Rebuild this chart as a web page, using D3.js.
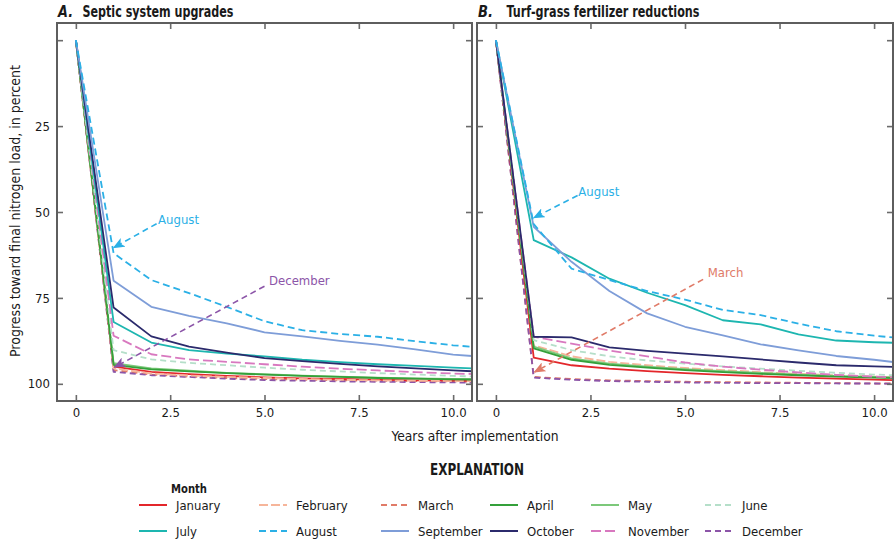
<!DOCTYPE html>
<html><head><meta charset="utf-8">
<script src="https://cdn.jsdelivr.net/npm/d3@7"></script>
<style>
body{margin:0;background:#fff}
svg{display:block}
text{font-family:"Liberation Sans Narrow","Arial Narrow","DejaVu Sans Condensed",sans-serif;fill:#1a1a1a}
</style>
</head><body>
<svg id="c" width="894" height="541"></svg>
<script>
// ---------- data ----------
const years = [0,1,2,3,4,5,6,7,8,9,10,11];
const months = ["January","February","March","April","May","June","July","August","September","October","November","December"];

// Panel A: Septic system upgrades (progress, percent), one row per month
const septicValues = [
  [0, 95.0, 96.5, 97.2, 97.7, 98.1, 98.4, 98.6, 98.8, 99.0, 99.1, 99.2], // January
  [0, 95.5, 97.0, 97.6, 98.0, 98.3, 98.6, 98.8, 99.0, 99.1, 99.2, 99.3], // February
  [0, 96.0, 97.3, 97.9, 98.3, 98.6, 98.8, 99.0, 99.1, 99.2, 99.3, 99.4], // March
  [0, 94.5, 95.8, 96.4, 96.9, 97.3, 97.7, 98.0, 98.3, 98.5, 98.7, 98.8], // April
  [0, 94.0, 95.5, 96.2, 96.8, 97.2, 97.6, 97.9, 98.2, 98.4, 98.6, 98.7], // May
  [0, 90.2, 92.9, 93.9, 94.6, 95.3, 95.9, 96.4, 96.9, 97.3, 97.7, 98.0], // June
  [0, 82.0, 88.0, 90.2, 91.2, 92.0, 93.0, 93.7, 94.3, 94.8, 95.3, 95.7], // July
  [0, 62.0, 69.8, 73.6, 77.6, 81.8, 84.4, 85.5, 86.3, 87.6, 88.8, 89.6], // August
  [0, 70.0, 77.6, 80.2, 82.4, 85.0, 86.2, 87.5, 88.6, 90.0, 91.5, 92.3], // September
  [0, 77.8, 86.2, 89.2, 90.9, 92.5, 93.4, 94.2, 94.9, 95.5, 96.1, 96.6], // October
  [0, 86.0, 91.4, 92.9, 93.6, 94.3, 95.0, 95.6, 96.1, 96.6, 97.0, 97.3], // November
  [0, 96.5, 97.5, 98.0, 98.5, 98.9, 99.1, 99.3, 99.4, 99.5, 99.6, 99.7]  // December
];

// Panel B: Turf-grass fertilizer reductions
const turfValues = [
  [0, 92.4, 94.6, 95.6, 96.3, 96.9, 97.4, 97.8, 98.2, 98.5, 98.8, 99.0], // January
  [0, 88.8, 92.0, 93.6, 94.6, 95.4, 96.0, 96.6, 97.1, 97.5, 97.9, 98.2], // February
  [0, 98.0, 98.6, 99.0, 99.2, 99.4, 99.5, 99.6, 99.7, 99.8, 99.9, 99.9], // March
  [0, 89.7, 93.0, 94.5, 95.3, 96.0, 96.6, 97.1, 97.5, 97.9, 98.2, 98.5], // April
  [0, 89.2, 92.6, 94.1, 95.0, 95.7, 96.3, 96.8, 97.3, 97.7, 98.0, 98.3], // May
  [0, 87.3, 90.2, 92.0, 93.2, 94.1, 94.9, 95.6, 96.2, 96.8, 97.3, 97.7], // June
  [0, 58.2, 63.2, 69.4, 73.5, 77.1, 81.5, 82.7, 85.6, 87.4, 87.9, 88.2], // July
  [0, 53.5, 66.5, 69.8, 73.0, 75.5, 78.5, 80.0, 82.5, 84.7, 86.0, 87.0], // August
  [0, 54.3, 64.5, 73.0, 79.5, 83.4, 85.9, 88.5, 90.3, 91.9, 93.0, 94.3], // September
  [0, 86.3, 86.5, 89.4, 90.4, 91.2, 92.0, 92.9, 93.8, 94.6, 94.9, 95.2], // October
  [0, 86.3, 88.3, 90.3, 92.0, 93.8, 95.0, 95.9, 96.7, 97.4, 97.9, 98.4], // November
  [0, 98.2, 98.8, 99.2, 99.4, 99.6, 99.7, 99.8, 99.8, 99.9, 99.9, 100.0] // December
];

const xTickValues = [0, 2.5, 5, 7.5, 10];
const xTickLabels = ["0", "2.5", "5.0", "7.5", "10.0"];
const yTickValues = [0, 25, 50, 75, 100];
const yTickLabels = ["", "25", "50", "75", "100"];

// annotations: [label, month index, textYear, textValue, fromYear, fromValue, toYear, toValue]
const septicNotes = [
  ["August", 7, 2.18, 52.1, 2.14, 53.4, 1.0, 60.4],
  ["December", 11, 5.12, 69.8, 5.0, 71.6, 1.02, 95.2]
];
const turfNotes = [
  ["August", 7, 2.18, 44.0, 2.16, 45.2, 1.0, 51.7],
  ["March", 2, 5.6, 67.7, 5.48, 69.6, 1.02, 96.6]
];

// ---------- styles ----------
const colors = ["#e3262b","#f6b59a","#e07b68","#34a03a","#7cc87a","#b5dfc9",
                "#1db6b0","#2bb0e6","#7e9dd8","#2b2a6c","#d878bf","#8c55a8"];
const dashes = [null,"9,3","6,4",null,null,"6,4",null,"7,4",null,null,"10,4","6,4"];

// ---------- drawing ----------
const svg = d3.select("#c");
const defs = svg.append("defs");

// squeeze a text element to a given width (keeps it as real text)
function fit(sel, w){
  const n = sel.node();
  if (n.getComputedTextLength() > w) sel.attr("textLength", w).attr("lengthAdjust","spacingAndGlyphs");
  return sel;
}

const yTop = 23, yBot = 401;
const panels = [
  {id:"A", letter:"A.", title:"Septic system upgrades", tx:82.5, tw:151, x0:57, x1:472, values:septicValues, notes:septicNotes, labels:true},
  {id:"B", letter:"B.", title:"Turf-grass fertilizer reductions", tx:506.5, tw:193, x0:477, x1:893, values:turfValues, notes:turfNotes, labels:false}
];

months.forEach((m,i)=>{
  defs.append("marker").attr("id","arr"+i)
    .attr("viewBox","0 0 12 10").attr("refX",11).attr("refY",5)
    .attr("markerWidth",12).attr("markerHeight",10)
    .attr("markerUnits","userSpaceOnUse").attr("orient","auto")
    .append("path").attr("d","M0,0L12,5L0,10L3,5Z").attr("fill",colors[i]);
});

panels.forEach(p=>{
  const x = d3.scaleLinear().domain([-0.5,10.5]).range([p.x0,p.x1]);
  const y = d3.scaleLinear().domain([-5,105]).range([yTop,yBot]);
  const g = svg.append("g");

  defs.append("clipPath").attr("id","clip"+p.id)
    .append("rect").attr("x",p.x0).attr("y",yTop).attr("width",p.x1-p.x0).attr("height",yBot-yTop);

  // title
  fit(g.append("text").attr("x",p.x0+1).attr("y",16.5).attr("font-size",15).attr("font-weight","bold")
    .attr("font-style","italic").text(p.letter), 15);
  fit(g.append("text").attr("x",p.tx).attr("y",16.5).attr("font-size",15).attr("font-weight","bold")
    .text(p.title), p.tw);

  // lines
  const line = d3.line().x((d,k)=>x(years[k])).y(d=>y(d));
  const lg = g.append("g").attr("clip-path","url(#clip"+p.id+")");
  const order = [2,11,0,1,4,3,5,10,6,9,8,7];
  order.forEach(i=>{
    lg.append("path").datum(p.values[i]).attr("d",line)
      .attr("fill","none").attr("stroke",colors[i]).attr("stroke-width",1.8)
      .attr("stroke-dasharray",dashes[i]).attr("stroke-linejoin","round");
  });

  // annotations
  p.notes.forEach(n=>{
    const [lab, mi, tx, tv, fx, fv, ex, ev] = n;
    g.append("line").attr("x1",x(fx)).attr("y1",y(fv)).attr("x2",x(ex)).attr("y2",y(ev))
      .attr("stroke",colors[mi]).attr("stroke-width",1.6).attr("stroke-dasharray","6,4")
      .attr("marker-end","url(#arr"+mi+")");
    g.append("text").attr("x",x(tx)).attr("y",y(tv)).attr("dy","0.35em")
      .attr("font-size",13).style("fill",colors[mi]).text(lab);
  });

  // axes (ticks inward)
  const axStyle = sel=>{
    sel.select(".domain").remove();
    sel.selectAll(".tick line").attr("stroke","#6b6b6b").attr("stroke-width",1.6);
    sel.selectAll(".tick text").attr("font-size",13).style("fill","#1a1a1a")
      .attr("font-family",'"Liberation Sans Narrow","Arial Narrow","DejaVu Sans Condensed",sans-serif');
  };
  g.append("g").attr("transform",`translate(0,${yBot})`)
    .call(d3.axisBottom(x).tickValues(xTickValues).tickSize(-6).tickPadding(7)
      .tickFormat((d,k)=>xTickLabels[k])).call(axStyle);
  g.append("g").attr("transform",`translate(0,${yTop})`)
    .call(d3.axisTop(x).tickValues(xTickValues).tickSize(-6).tickFormat("")).call(axStyle);
  g.append("g").attr("transform",`translate(${p.x0},0)`)
    .call(d3.axisLeft(y).tickValues(yTickValues).tickSize(-6).tickPadding(7)
      .tickFormat((d,k)=>p.labels?yTickLabels[k]:"")).call(axStyle);
  g.append("g").attr("transform",`translate(${p.x1},0)`)
    .call(d3.axisRight(y).tickValues(yTickValues).tickSize(-6).tickFormat("")).call(axStyle);

  // frame
  g.append("rect").attr("x",p.x0).attr("y",yTop).attr("width",p.x1-p.x0).attr("height",yBot-yTop)
    .attr("fill","none").attr("stroke","#5e5e5e").attr("stroke-width",2);
});

// axis titles
fit(svg.append("text").attr("transform","translate(15,211) rotate(-90)")
  .attr("text-anchor","middle").attr("dy","0.35em").attr("font-size",14.5)
  .text("Progress toward final nitrogen load, in percent"), 292);
fit(svg.append("text").attr("x",475).attr("y",436).attr("text-anchor","middle").attr("dy","0.35em")
  .attr("font-size",14.5).text("Years after implementation"), 167);

// legend
fit(svg.append("text").attr("x",477).attr("y",470).attr("text-anchor","middle").attr("dy","0.35em")
  .attr("font-size",15).attr("font-weight","bold").text("EXPLANATION"), 94);
fit(svg.append("text").attr("x",171).attr("y",488).attr("dy","0.35em")
  .attr("font-size",13).attr("font-weight","bold").text("Month"), 36);

const legX = [139, 259, 381, 490, 591, 705];
const legRowY = [505, 531];
months.forEach((m,i)=>{
  const col = i%6, row = Math.floor(i/6);
  const lx = legX[col], ly = legRowY[row];
  svg.append("line").attr("x1",lx).attr("x2",lx+28).attr("y1",ly).attr("y2",ly)
    .attr("stroke",colors[i]).attr("stroke-width",2).attr("stroke-dasharray",dashes[i]);
  svg.append("text").attr("x",lx+37).attr("y",ly).attr("dy","0.35em")
    .attr("font-size",13).text(m);
});
</script>
</body></html>
